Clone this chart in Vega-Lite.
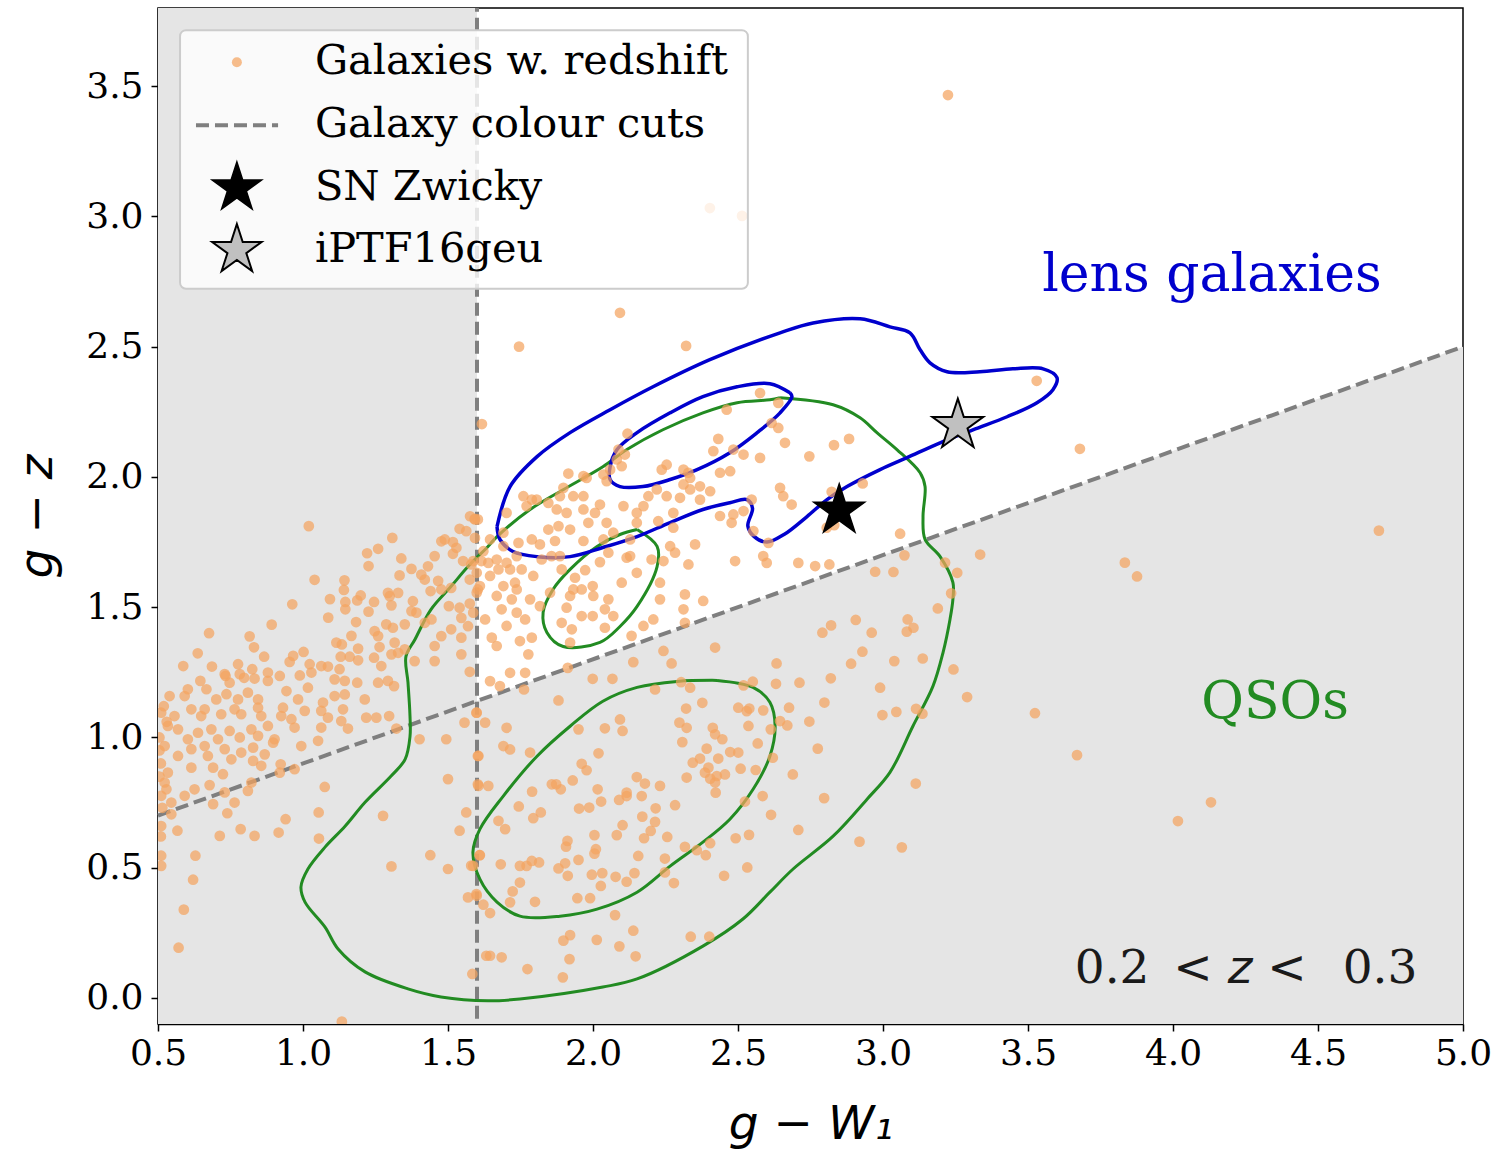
{
"$schema":"https://vega.github.io/schema/vega-lite/v6.json",
"width":1305,"height":1016,
"autosize":{"type":"none"},
"padding":{"left":158,"top":8,"right":38,"bottom":127},
"config":{"view":{"stroke":"black","strokeWidth":1.5},
"axis":{"grid":false,"tickSize":7,"tickWidth":1.5,"tickColor":"black","domainColor":"black","domainWidth":1.5,"labelFont":"DejaVu Serif","labelFontSize":36,"labelColor":"black","labelFlush":false,"labelOverlap":false,"labelBound":false,"titleFont":"DejaVu Sans","titleFontStyle":"italic","titleFontWeight":"normal","titleFontSize":47,"titleColor":"black"}},
"datasets":{
"shadeL":[{"x":0.5,"x2":1.6,"y":-0.1,"y2":3.8}],
"shadeR":[{"x":1.6,"y":1.14,"y2":-0.1},{"x":5.0,"y":2.5,"y2":-0.1}],
"diag":[{"x":0.5,"y":0.7},{"x":5.0,"y":2.5}],
"vert":[{"x":1.6,"y":-0.08,"y2":3.8}],
"green":[
{"c":"o","x":2.645,"y":2.304},{"c":"o","x":2.828,"y":2.277},{"c":"o","x":2.921,"y":2.227},{"c":"o","x":2.979,"y":2.17},{"c":"o","x":3.048,"y":2.105},{"c":"o","x":3.128,"y":2.016},{"c":"o","x":3.145,"y":1.963},{"c":"o","x":3.138,"y":1.848},{"c":"o","x":3.145,"y":1.76},{"c":"o","x":3.197,"y":1.694},{"c":"o","x":3.241,"y":1.595},{"c":"o","x":3.241,"y":1.53},{"c":"o","x":3.231,"y":1.453},{"c":"o","x":3.207,"y":1.326},{"c":"o","x":3.172,"y":1.196},{"c":"o","x":3.103,"y":1.043},{"c":"o","x":3.024,"y":0.866},{"c":"o","x":2.945,"y":0.763},{"c":"o","x":2.828,"y":0.621},{"c":"o","x":2.69,"y":0.495},{"c":"o","x":2.61,"y":0.406},{"c":"o","x":2.517,"y":0.303},{"c":"o","x":2.379,"y":0.199},{"c":"o","x":2.152,"y":0.073},{"c":"o","x":2.034,"y":0.042},{"c":"o","x":1.748,"y":-0.004},{"c":"o","x":1.638,"y":-0.011},{"c":"o","x":1.476,"y":0.004},{"c":"o","x":1.362,"y":0.035},{"c":"o","x":1.214,"y":0.1},{"c":"o","x":1.121,"y":0.188},{"c":"o","x":1.076,"y":0.272},{"c":"o","x":1.007,"y":0.368},{"c":"o","x":0.993,"y":0.426},{"c":"o","x":1.017,"y":0.495},{"c":"o","x":1.076,"y":0.579},{"c":"o","x":1.145,"y":0.659},{"c":"o","x":1.214,"y":0.751},{"c":"o","x":1.303,"y":0.851},{"c":"o","x":1.352,"y":0.916},{"c":"o","x":1.369,"y":1.004},{"c":"o","x":1.369,"y":1.081},{"c":"o","x":1.362,"y":1.211},{"c":"o","x":1.355,"y":1.311},{"c":"o","x":1.386,"y":1.376},{"c":"o","x":1.441,"y":1.491},{"c":"o","x":1.51,"y":1.579},{"c":"o","x":1.569,"y":1.656},{"c":"o","x":1.638,"y":1.733},{"c":"o","x":1.669,"y":1.771},{"c":"o","x":1.783,"y":1.875},{"c":"o","x":1.897,"y":1.951},{"c":"o","x":2.034,"y":2.039},{"c":"o","x":2.117,"y":2.105},{"c":"o","x":2.241,"y":2.181},{"c":"o","x":2.379,"y":2.246},{"c":"o","x":2.497,"y":2.285},{"c":"o","x":2.61,"y":2.296},{"c":"o","x":2.645,"y":2.304},
{"c":"u","x":2.152,"y":1.798},{"c":"u","x":2.221,"y":1.733},{"c":"u","x":2.221,"y":1.656},{"c":"u","x":2.152,"y":1.503},{"c":"u","x":2.093,"y":1.426},{"c":"u","x":2.024,"y":1.365},{"c":"u","x":1.897,"y":1.349},{"c":"u","x":1.841,"y":1.403},{"c":"u","x":1.828,"y":1.48},{"c":"u","x":1.862,"y":1.568},{"c":"u","x":1.921,"y":1.645},{"c":"u","x":2.014,"y":1.733},{"c":"u","x":2.093,"y":1.779},{"c":"u","x":2.152,"y":1.798},
{"c":"l","x":2.428,"y":1.219},{"c":"l","x":2.552,"y":1.192},{"c":"l","x":2.61,"y":1.135},{"c":"l","x":2.628,"y":1.043},{"c":"l","x":2.61,"y":0.928},{"c":"l","x":2.552,"y":0.801},{"c":"l","x":2.472,"y":0.686},{"c":"l","x":2.379,"y":0.598},{"c":"l","x":2.266,"y":0.506},{"c":"l","x":2.152,"y":0.406},{"c":"l","x":2.014,"y":0.341},{"c":"l","x":1.886,"y":0.314},{"c":"l","x":1.748,"y":0.314},{"c":"l","x":1.669,"y":0.368},{"c":"l","x":1.61,"y":0.456},{"c":"l","x":1.586,"y":0.56},{"c":"l","x":1.61,"y":0.648},{"c":"l","x":1.69,"y":0.774},{"c":"l","x":1.807,"y":0.928},{"c":"l","x":1.921,"y":1.043},{"c":"l","x":2.034,"y":1.139},{"c":"l","x":2.152,"y":1.192},{"c":"l","x":2.29,"y":1.215},{"c":"l","x":2.428,"y":1.219}],
"blue":[
{"c":"o","x":1.669,"y":1.809},{"c":"o","x":1.714,"y":1.963},{"c":"o","x":1.807,"y":2.078},{"c":"o","x":1.921,"y":2.17},{"c":"o","x":2.059,"y":2.258},{"c":"o","x":2.207,"y":2.346},{"c":"o","x":2.403,"y":2.45},{"c":"o","x":2.645,"y":2.553},{"c":"o","x":2.759,"y":2.591},{"c":"o","x":2.921,"y":2.607},{"c":"o","x":3.024,"y":2.576},{"c":"o","x":3.093,"y":2.553},{"c":"o","x":3.128,"y":2.488},{"c":"o","x":3.162,"y":2.438},{"c":"o","x":3.221,"y":2.404},{"c":"o","x":3.334,"y":2.404},{"c":"o","x":3.448,"y":2.415},{"c":"o","x":3.552,"y":2.415},{"c":"o","x":3.6,"y":2.381},{"c":"o","x":3.586,"y":2.335},{"c":"o","x":3.531,"y":2.285},{"c":"o","x":3.428,"y":2.231},{"c":"o","x":3.31,"y":2.181},{"c":"o","x":3.197,"y":2.131},{"c":"o","x":3.083,"y":2.074},{"c":"o","x":2.99,"y":2.028},{"c":"o","x":2.876,"y":1.963},{"c":"o","x":2.807,"y":1.913},{"c":"o","x":2.738,"y":1.848},{"c":"o","x":2.66,"y":1.78},{"c":"o","x":2.6,"y":1.75},{"c":"o","x":2.555,"y":1.772},{"c":"o","x":2.534,"y":1.812},{"c":"o","x":2.55,"y":1.88},{"c":"o","x":2.531,"y":1.913},{"c":"o","x":2.472,"y":1.901},{"c":"o","x":2.379,"y":1.875},{"c":"o","x":2.266,"y":1.825},{"c":"o","x":2.152,"y":1.771},{"c":"o","x":2.034,"y":1.729},{"c":"o","x":1.921,"y":1.694},{"c":"o","x":1.807,"y":1.694},{"c":"o","x":1.724,"y":1.714},{"c":"o","x":1.679,"y":1.76},{"c":"o","x":1.669,"y":1.809},
{"c":"i","x":2.679,"y":2.323},{"c":"i","x":2.61,"y":2.358},{"c":"i","x":2.497,"y":2.346},{"c":"i","x":2.379,"y":2.308},{"c":"i","x":2.266,"y":2.246},{"c":"i","x":2.152,"y":2.17},{"c":"i","x":2.083,"y":2.105},{"c":"i","x":2.059,"y":2.039},{"c":"i","x":2.059,"y":1.99},{"c":"i","x":2.093,"y":1.963},{"c":"i","x":2.172,"y":1.963},{"c":"i","x":2.266,"y":1.99},{"c":"i","x":2.359,"y":2.028},{"c":"i","x":2.472,"y":2.093},{"c":"i","x":2.566,"y":2.17},{"c":"i","x":2.645,"y":2.246},{"c":"i","x":2.686,"y":2.308},{"c":"i","x":2.679,"y":2.323}],
"pts":[
{"x":1.617,"y":2.203},{"x":1.02,"y":1.811},{"x":1.308,"y":1.766},{"x":1.221,"y":1.707},{"x":1.259,"y":1.724},{"x":1.226,"y":1.658},{"x":1.339,"y":1.687},{"x":1.04,"y":1.605},{"x":1.143,"y":1.603},{"x":1.141,"y":1.566},{"x":1.093,"y":1.531},{"x":0.963,"y":1.511},{"x":1.146,"y":1.52},{"x":1.187,"y":1.526},{"x":1.199,"y":1.545},{"x":1.245,"y":1.52},{"x":1.146,"y":1.492},{"x":1.087,"y":1.46},{"x":1.183,"y":1.443},{"x":1.226,"y":1.483},{"x":0.892,"y":1.433},{"x":0.676,"y":1.4},{"x":0.816,"y":1.388},{"x":0.831,"y":1.346},{"x":0.637,"y":1.323},{"x":0.587,"y":1.274},{"x":0.686,"y":1.272},{"x":0.776,"y":1.281},{"x":0.866,"y":1.31},{"x":0.825,"y":1.262},{"x":0.966,"y":1.313},{"x":1.002,"y":1.328},{"x":0.954,"y":1.29},{"x":1.023,"y":1.281},{"x":1.063,"y":1.274},{"x":1.086,"y":1.272},{"x":1.13,"y":1.31},{"x":1.161,"y":1.31},{"x":1.19,"y":1.296},{"x":1.167,"y":1.39},{"x":1.115,"y":1.364},{"x":1.134,"y":1.357},{"x":1.19,"y":1.341},{"x":1.245,"y":1.306},{"x":1.264,"y":1.347},{"x":1.259,"y":1.389},{"x":1.247,"y":1.408},{"x":1.293,"y":1.555},{"x":1.328,"y":1.555},{"x":1.333,"y":1.622},{"x":1.374,"y":1.647},{"x":1.408,"y":1.625},{"x":1.42,"y":1.606},{"x":1.466,"y":1.601},{"x":1.44,"y":1.562},{"x":1.477,"y":1.568},{"x":1.511,"y":1.574},{"x":1.431,"y":1.657},{"x":1.454,"y":1.696},{"x":1.489,"y":1.76},{"x":1.477,"y":1.753},{"x":1.517,"y":1.75},{"x":1.529,"y":1.728},{"x":1.517,"y":1.705},{"x":1.54,"y":1.801},{"x":1.563,"y":1.792},{"x":1.592,"y":1.839},{"x":1.603,"y":1.837},{"x":1.552,"y":1.677},{"x":1.58,"y":1.664},{"x":1.615,"y":1.677},{"x":1.575,"y":1.606},{"x":1.603,"y":1.568},{"x":1.503,"y":1.504},{"x":1.54,"y":1.498},{"x":1.575,"y":1.514},{"x":1.379,"y":1.523},{"x":1.391,"y":1.479},{"x":1.299,"y":1.542},{"x":1.305,"y":1.507},{"x":1.374,"y":1.485},{"x":1.351,"y":1.434},{"x":1.31,"y":1.421},{"x":1.287,"y":1.434},{"x":1.316,"y":1.364},{"x":1.351,"y":1.338},{"x":1.385,"y":1.293},{"x":1.454,"y":1.293},{"x":1.454,"y":1.351},{"x":1.477,"y":1.389},{"x":1.511,"y":1.415},{"x":1.546,"y":1.459},{"x":1.569,"y":1.427},{"x":1.546,"y":1.383},{"x":1.546,"y":1.319},{"x":1.575,"y":1.252},{"x":1.42,"y":1.44},{"x":1.443,"y":1.453},{"x":1.27,"y":1.274},{"x":1.305,"y":1.319},{"x":1.328,"y":1.325},{"x":1.126,"y":1.262},{"x":1.029,"y":1.249},{"x":0.73,"y":1.243},{"x":0.782,"y":1.243},{"x":0.879,"y":1.249},
{"x":0.646,"y":1.217},{"x":0.733,"y":1.236},{"x":0.747,"y":1.21},{"x":0.797,"y":1.229},{"x":0.833,"y":1.226},{"x":0.879,"y":1.217},{"x":0.92,"y":1.236},{"x":0.989,"y":1.238},{"x":1.109,"y":1.223},{"x":1.144,"y":1.217},{"x":1.187,"y":1.21},{"x":1.259,"y":1.21},{"x":1.293,"y":1.217},{"x":1.314,"y":1.197},{"x":0.54,"y":1.159},{"x":0.592,"y":1.159},{"x":0.603,"y":1.185},{"x":0.667,"y":1.185},{"x":0.701,"y":1.146},{"x":0.736,"y":1.166},{"x":0.776,"y":1.146},{"x":0.81,"y":1.172},{"x":0.845,"y":1.146},{"x":0.943,"y":1.178},{"x":0.983,"y":1.146},{"x":1.017,"y":1.191},{"x":1.069,"y":1.134},{"x":1.109,"y":1.159},{"x":1.144,"y":1.165},{"x":1.213,"y":1.146},{"x":0.511,"y":1.095},{"x":0.557,"y":1.082},{"x":0.615,"y":1.108},{"x":0.661,"y":1.108},{"x":0.649,"y":1.082},{"x":0.718,"y":1.089},{"x":0.764,"y":1.108},{"x":0.787,"y":1.089},{"x":0.845,"y":1.114},{"x":0.856,"y":1.082},{"x":0.931,"y":1.114},{"x":0.925,"y":1.082},{"x":0.96,"y":1.07},{"x":1.006,"y":1.102},{"x":1.063,"y":1.102},{"x":1.086,"y":1.076},{"x":1.138,"y":1.108},{"x":1.132,"y":1.063},{"x":1.218,"y":1.076},{"x":1.253,"y":1.076},{"x":1.297,"y":1.082},{"x":0.534,"y":1.044},{"x":0.569,"y":1.031},{"x":0.638,"y":1.018},{"x":0.603,"y":0.993},{"x":0.684,"y":1.031},{"x":0.707,"y":0.993},{"x":0.747,"y":1.025},{"x":0.782,"y":1.0},{"x":0.822,"y":1.031},{"x":0.845,"y":1.006},{"x":0.879,"y":1.044},{"x":0.902,"y":0.993},{"x":0.971,"y":1.038},{"x":1.063,"y":1.038},{"x":1.155,"y":1.034},{"x":1.052,"y":0.987},{"x":0.994,"y":0.967},{"x":1.322,"y":1.034},{"x":1.402,"y":0.993},{"x":1.494,"y":0.993},{"x":1.557,"y":1.057},{"x":1.598,"y":1.095},{"x":0.523,"y":0.967},{"x":0.569,"y":0.929},{"x":0.615,"y":0.955},{"x":0.661,"y":0.967},{"x":0.672,"y":0.929},{"x":0.73,"y":0.955},{"x":0.753,"y":0.916},{"x":0.787,"y":0.942},{"x":0.828,"y":0.961},{"x":0.868,"y":0.935},{"x":0.897,"y":0.98},{"x":0.534,"y":0.865},{"x":0.615,"y":0.884},{"x":0.69,"y":0.884},{"x":0.724,"y":0.859},{"x":0.828,"y":0.91},{"x":0.856,"y":0.891},{"x":0.92,"y":0.865},{"x":0.971,"y":0.878},{"x":0.923,"y":0.897},{"x":0.523,"y":0.827},{"x":0.529,"y":0.801},{"x":0.626,"y":0.801},{"x":0.678,"y":0.817},{"x":0.73,"y":0.789},{"x":0.81,"y":0.795},{"x":0.822,"y":0.827},{"x":1.075,"y":0.81},{"x":0.511,"y":0.776},{"x":0.546,"y":0.75},{"x":0.592,"y":0.776},{"x":0.69,"y":0.744},{"x":0.764,"y":0.75},{"x":0.546,"y":0.705},{"x":0.511,"y":0.66},{"x":0.567,"y":0.642},{"x":0.739,"y":0.709},{"x":0.713,"y":0.622},{"x":0.785,"y":0.648},{"x":0.833,"y":0.622},{"x":0.916,"y":0.635},{"x":0.94,"y":0.686},{"x":1.054,"y":0.712},{"x":1.055,"y":0.612},{"x":1.276,"y":0.699},{"x":1.5,"y":0.84},{"x":1.563,"y":0.712},{"x":1.54,"y":0.642},{"x":1.603,"y":0.929},{"x":1.603,"y":0.82},{"x":0.511,"y":0.546},{"x":0.511,"y":0.507},{"x":0.629,"y":0.546},{"x":0.621,"y":0.454},{"x":0.589,"y":0.339},{"x":0.571,"y":0.193},{"x":1.134,"y":-0.091},{"x":1.439,"y":0.548},{"x":1.305,"y":0.505},{"x":1.5,"y":0.495},{"x":1.58,"y":0.508},{"x":1.609,"y":0.548},{"x":1.569,"y":0.386},{"x":1.598,"y":0.399},{"x":1.632,"y":0.162},{"x":1.584,"y":0.092},{"x":0.51,"y":0.9},{"x":0.505,"y":1.0},{"x":0.51,"y":0.62},{"x":0.52,"y":1.12},{"x":0.505,"y":0.85},{"x":0.515,"y":0.73},{"x":0.505,"y":0.95},{"x":0.53,"y":1.06},
{"x":2.119,"y":2.166},{"x":2.088,"y":2.105},{"x":2.11,"y":2.086},{"x":2.082,"y":2.067},{"x":2.099,"y":2.041},{"x":2.059,"y":2.028},{"x":2.036,"y":2.009},{"x":2.047,"y":1.984},{"x":1.915,"y":2.013},{"x":1.967,"y":2.003},{"x":1.978,"y":1.996},{"x":1.898,"y":1.958},{"x":1.886,"y":1.926},{"x":1.932,"y":1.926},{"x":1.967,"y":1.926},{"x":1.76,"y":1.926},{"x":1.789,"y":1.913},{"x":1.806,"y":1.913},{"x":1.771,"y":1.888},{"x":1.702,"y":1.862},{"x":1.846,"y":1.9},{"x":1.875,"y":1.875},{"x":1.909,"y":1.862},{"x":1.967,"y":1.875},{"x":2.007,"y":1.862},{"x":2.024,"y":1.894},{"x":2.105,"y":1.888},{"x":2.151,"y":1.862},{"x":2.174,"y":1.888},{"x":2.191,"y":1.926},{"x":2.22,"y":1.952},{"x":2.254,"y":1.926},{"x":2.237,"y":2.028},{"x":2.254,"y":2.047},{"x":2.312,"y":2.028},{"x":2.329,"y":2.016},{"x":2.335,"y":1.996},{"x":2.312,"y":1.971},{"x":2.3,"y":1.92},{"x":2.335,"y":1.952},{"x":2.369,"y":1.913},{"x":2.404,"y":1.945},{"x":2.369,"y":1.964},{"x":2.438,"y":2.016},{"x":2.473,"y":2.022},{"x":2.415,"y":2.099},{"x":2.432,"y":2.146},{"x":2.484,"y":2.105},{"x":2.519,"y":2.086},{"x":2.576,"y":2.073},{"x":2.461,"y":2.258},{"x":2.576,"y":2.322},{"x":2.639,"y":2.284},{"x":2.616,"y":2.207},{"x":2.639,"y":2.188},{"x":2.662,"y":2.131},{"x":2.645,"y":1.958},{"x":2.656,"y":1.926},{"x":2.685,"y":1.894},{"x":2.547,"y":1.913},{"x":2.519,"y":1.869},{"x":2.484,"y":1.856},{"x":2.438,"y":1.85},{"x":2.478,"y":1.824},{"x":2.553,"y":1.792},{"x":2.605,"y":1.747},{"x":2.49,"y":1.677},{"x":2.587,"y":1.696},{"x":2.599,"y":1.67},{"x":2.708,"y":1.67},{"x":2.277,"y":1.805},{"x":2.277,"y":1.862},{"x":2.225,"y":1.83},{"x":2.151,"y":1.824},{"x":2.128,"y":1.76},{"x":2.07,"y":1.786},{"x":2.047,"y":1.824},{"x":2.036,"y":1.76},{"x":2.053,"y":1.709},{"x":2.116,"y":1.69},{"x":2.128,"y":1.696},{"x":2.202,"y":1.683},{"x":2.243,"y":1.677},{"x":2.266,"y":1.734},{"x":2.283,"y":1.709},{"x":2.352,"y":1.741},{"x":2.329,"y":1.664},{"x":2.231,"y":1.594},{"x":2.231,"y":1.53},{"x":2.208,"y":1.453},{"x":2.174,"y":1.428},{"x":2.133,"y":1.39},{"x":2.317,"y":1.549},{"x":2.312,"y":1.492},{"x":2.317,"y":1.44},{"x":2.38,"y":1.524},{"x":2.421,"y":1.345},{"x":2.243,"y":1.332},{"x":2.151,"y":1.632},{"x":2.099,"y":1.594},{"x":2.053,"y":1.53},{"x":2.041,"y":1.492},{"x":2.07,"y":1.466},{"x":2.041,"y":1.421},{"x":1.999,"y":1.581},{"x":2.001,"y":1.543},{"x":1.961,"y":1.568},{"x":1.932,"y":1.568},{"x":1.921,"y":1.543},{"x":1.938,"y":1.613},{"x":1.973,"y":1.642},{"x":2.024,"y":1.673},{"x":1.892,"y":1.645},{"x":1.909,"y":1.498},{"x":1.961,"y":1.466},{"x":1.999,"y":1.466},{"x":1.927,"y":1.415},{"x":1.892,"y":1.44},{"x":1.921,"y":1.364},{"x":1.852,"y":1.556},{"x":1.817,"y":1.504},{"x":1.794,"y":1.62},{"x":1.783,"y":1.53},{"x":1.754,"y":1.645},{"x":1.823,"y":1.683},{"x":1.857,"y":1.696},{"x":1.886,"y":1.696},{"x":1.967,"y":1.754},{"x":1.984,"y":1.824},{"x":1.921,"y":1.798},{"x":1.881,"y":1.811},{"x":1.846,"y":1.798},{"x":1.869,"y":1.754},{"x":1.817,"y":1.741},{"x":1.789,"y":1.76},{"x":1.737,"y":1.696},{"x":1.743,"y":1.747},{"x":1.691,"y":1.786},{"x":1.691,"y":1.734},{"x":1.645,"y":1.76},{"x":1.622,"y":1.715},{"x":1.593,"y":1.766},{"x":1.576,"y":1.849},{"x":1.593,"y":1.837},{"x":1.639,"y":1.67},{"x":1.668,"y":1.683},{"x":1.702,"y":1.67},{"x":1.714,"y":1.645},{"x":1.587,"y":1.677},{"x":1.599,"y":1.632},{"x":1.645,"y":1.62},{"x":1.674,"y":1.645},{"x":1.61,"y":1.581},{"x":1.691,"y":1.581},{"x":1.731,"y":1.594},{"x":1.737,"y":1.568},{"x":1.72,"y":1.53},{"x":1.668,"y":1.543},{"x":1.685,"y":1.492},{"x":1.737,"y":1.479},{"x":1.702,"y":1.428},{"x":1.628,"y":1.453},{"x":1.651,"y":1.383},{"x":1.668,"y":1.351},{"x":1.748,"y":1.37},{"x":1.789,"y":1.383},{"x":1.766,"y":1.453},{"x":1.777,"y":1.319},{"x":1.587,"y":1.479},{"x":1.599,"y":1.556},
{"x":3.53,"y":2.369},{"x":3.679,"y":2.108},{"x":2.746,"y":2.079},{"x":2.831,"y":2.122},{"x":2.883,"y":2.146},{"x":2.93,"y":1.975},{"x":2.823,"y":1.943},{"x":2.806,"y":1.805},{"x":2.832,"y":1.815},{"x":3.059,"y":1.782},{"x":3.074,"y":1.699},{"x":2.766,"y":1.658},{"x":2.815,"y":1.664},{"x":2.973,"y":1.636},{"x":3.036,"y":1.635},{"x":3.214,"y":1.671},{"x":3.335,"y":1.702},{"x":3.256,"y":1.632},{"x":3.235,"y":1.553},{"x":3.189,"y":1.495},{"x":3.085,"y":1.453},{"x":3.105,"y":1.421},{"x":3.082,"y":1.406},{"x":2.961,"y":1.402},{"x":2.906,"y":1.451},{"x":2.821,"y":1.43},{"x":2.791,"y":1.402},
{"x":2.271,"y":1.284},{"x":2.139,"y":1.289},{"x":1.999,"y":1.225},{"x":2.067,"y":1.225},{"x":1.913,"y":1.267},{"x":1.881,"y":1.142},{"x":1.714,"y":1.248},{"x":1.766,"y":1.248},{"x":1.645,"y":1.216},{"x":1.679,"y":1.197},{"x":1.762,"y":1.184},{"x":1.599,"y":1.095},{"x":1.628,"y":1.057},{"x":1.702,"y":1.037},{"x":1.691,"y":0.967},{"x":1.714,"y":0.954},{"x":1.783,"y":0.942},{"x":1.605,"y":0.929},{"x":1.605,"y":0.814},{"x":1.639,"y":0.814},{"x":1.674,"y":0.68},{"x":1.697,"y":0.648},{"x":1.61,"y":0.548},{"x":1.587,"y":0.507},{"x":1.682,"y":0.513},{"x":1.748,"y":0.507},{"x":1.771,"y":0.507},{"x":1.789,"y":0.526},{"x":1.814,"y":0.52},{"x":1.748,"y":0.443},{"x":1.723,"y":0.409},{"x":1.714,"y":0.367},{"x":1.8,"y":0.369},{"x":1.599,"y":0.392},{"x":1.622,"y":0.358},{"x":1.645,"y":0.326},{"x":1.645,"y":0.162},{"x":1.685,"y":0.156},{"x":1.774,"y":0.111},{"x":1.896,"y":0.079},{"x":1.919,"y":0.149},{"x":1.898,"y":0.22},{"x":1.921,"y":0.241},{"x":2.013,"y":0.223},{"x":2.091,"y":0.198},{"x":2.139,"y":0.258},{"x":2.147,"y":0.16},{"x":2.076,"y":0.318},{"x":2.337,"y":0.235},{"x":2.401,"y":0.235},{"x":1.79,"y":0.792},{"x":1.744,"y":0.735},{"x":1.794,"y":0.69},{"x":1.82,"y":0.712},{"x":1.858,"y":0.82},{"x":1.873,"y":0.82},{"x":1.889,"y":0.801},{"x":1.93,"y":0.835},{"x":1.961,"y":0.899},{"x":1.978,"y":0.874},{"x":2.019,"y":0.939},{"x":1.95,"y":1.031},{"x":2.041,"y":1.035},{"x":2.093,"y":1.069},{"x":2.102,"y":1.025},{"x":2.016,"y":0.801},{"x":2.028,"y":0.754},{"x":1.952,"y":0.727},{"x":1.987,"y":0.731},{"x":1.912,"y":0.603},{"x":1.907,"y":0.581},{"x":1.95,"y":0.53},{"x":1.904,"y":0.517},{"x":1.881,"y":0.497},{"x":1.913,"y":0.469},{"x":2.005,"y":0.625},{"x":2.01,"y":0.571},{"x":2.005,"y":0.554},{"x":1.996,"y":0.473},{"x":2.032,"y":0.479},{"x":2.027,"y":0.43},{"x":2.078,"y":0.465},{"x":2.116,"y":0.446},{"x":2.143,"y":0.479},{"x":2.156,"y":0.545},{"x":2.082,"y":0.625},{"x":2.102,"y":0.663},{"x":2.176,"y":0.613},{"x":2.17,"y":0.696},{"x":2.199,"y":0.641},{"x":2.214,"y":0.676},{"x":2.216,"y":0.728},{"x":2.09,"y":0.76},{"x":2.116,"y":0.775},{"x":2.116,"y":0.788},{"x":2.168,"y":0.775},{"x":2.151,"y":0.848},{"x":2.179,"y":0.823},{"x":2.231,"y":0.814},{"x":2.283,"y":0.74},{"x":2.256,"y":0.618},{"x":2.317,"y":0.58},{"x":2.358,"y":0.567},{"x":2.389,"y":0.548},{"x":2.404,"y":0.594},{"x":2.248,"y":0.535},{"x":2.248,"y":0.482},{"x":2.279,"y":0.441},{"x":1.946,"y":0.383},{"x":1.99,"y":0.383},{"x":2.308,"y":0.982},{"x":2.323,"y":1.037},{"x":2.298,"y":1.057},{"x":2.321,"y":1.111},{"x":2.377,"y":1.133},{"x":2.304,"y":1.212},{"x":2.335,"y":1.191},{"x":2.214,"y":1.184},{"x":2.413,"y":1.037},{"x":2.421,"y":1.012},{"x":2.446,"y":0.993},{"x":2.392,"y":0.957},{"x":2.432,"y":0.919},{"x":2.369,"y":0.919},{"x":2.344,"y":0.903},{"x":2.323,"y":0.846},{"x":2.386,"y":0.865},{"x":2.398,"y":0.884},{"x":2.404,"y":0.842},{"x":2.421,"y":0.827},{"x":2.427,"y":0.852},{"x":2.455,"y":0.858},{"x":2.423,"y":0.788},{"x":2.473,"y":0.944},{"x":2.501,"y":0.942},{"x":2.509,"y":0.88},{"x":2.561,"y":0.875},{"x":2.568,"y":0.977},{"x":2.536,"y":1.044},{"x":2.501,"y":1.114},{"x":2.53,"y":1.101},{"x":2.539,"y":1.111},{"x":2.587,"y":1.104},{"x":2.519,"y":1.2},{"x":2.551,"y":1.214},{"x":2.631,"y":1.206},{"x":2.633,"y":1.284},{"x":2.676,"y":1.114},{"x":2.645,"y":1.063},{"x":2.67,"y":1.046},{"x":2.613,"y":1.031},{"x":2.62,"y":0.922},{"x":2.689,"y":0.858},{"x":2.712,"y":1.21},{"x":2.585,"y":0.775},{"x":2.614,"y":0.703},{"x":2.524,"y":0.754},{"x":2.708,"y":0.645},{"x":2.538,"y":0.626},{"x":2.492,"y":0.613},{"x":2.532,"y":0.501},{"x":2.452,"y":0.469},
{"x":2.929,"y":1.329},{"x":2.89,"y":1.283},{"x":3.039,"y":1.293},{"x":3.137,"y":1.303},{"x":3.243,"y":1.261},{"x":3.29,"y":1.155},{"x":3.524,"y":1.093},{"x":3.669,"y":0.932},{"x":2.82,"y":1.227},{"x":2.798,"y":1.134},{"x":2.746,"y":1.061},{"x":2.99,"y":1.191},{"x":2.998,"y":1.086},{"x":3.046,"y":1.098},{"x":3.114,"y":1.11},{"x":3.136,"y":1.091},{"x":2.775,"y":0.957},{"x":2.797,"y":0.767},{"x":3.113,"y":0.823},{"x":2.919,"y":0.6},{"x":3.065,"y":0.578},
{"x":3.834,"y":1.671},{"x":3.876,"y":1.618},{"x":4.71,"y":1.794},{"x":4.131,"y":0.751},{"x":4.017,"y":0.679},{"x":3.224,"y":3.466},{"x":2.403,"y":3.032},{"x":2.514,"y":3.002},{"x":2.093,"y":2.63},{"x":1.745,"y":2.5},{"x":2.321,"y":2.503}],
"sn":[{"x":2.849,"y":1.871,"n":"SN Zwicky"}],
"ip":[{"x":3.258,"y":2.198,"n":"iPTF16geu"}],
"legbox":[{"x":0.576,"x2":2.534,"y":2.722,"y2":3.715}],
"legdot":[{"x":0.772,"y":3.592}],
"legdash":[{"x":0.631,"y":3.35},{"x":0.914,"y":3.35}],
"legsn":[{"x":0.772,"y":3.109}],
"legip":[{"x":0.772,"y":2.871}],
"legtxt":[{"x":1.041,"y":3.592,"t":"Galaxies w. redshift"},{"x":1.041,"y":3.35,"t":"Galaxy colour cuts"},{"x":1.041,"y":3.109,"t":"SN Zwicky"},{"x":1.041,"y":2.871,"t":"iPTF16geu"}],
"lens":[{"x":4.134,"y":2.775,"t":"lens galaxies"}],
"qso":[{"x":4.352,"y":1.135,"t":"QSOs"}],
"zr":[{"x":3.79,"y":0.111,"t":"0.2"},{"x":4.714,"y":0.111,"t":"0.3"}],
"zm":[{"x":4.231,"y":0.111,"t":"< z <"}]
},
"layer":[
{"data":{"name":"shadeL"},"mark":{"type":"rect","color":"#e5e5e5"},
 "encoding":{"x":{"field":"x","type":"quantitative","scale":{"domain":[0.5,5.0],"nice":false,"zero":false},"axis":{"values":[0.5,1,1.5,2,2.5,3,3.5,4,4.5,5],"format":".1f","title":"g − W₁","labelPadding":5,"titlePadding":30}},
  "x2":{"field":"x2"},
  "y":{"field":"y","type":"quantitative","scale":{"domain":[-0.1,3.8],"nice":false,"zero":false},"axis":{"values":[0,0.5,1,1.5,2,2.5,3,3.5],"format":".1f","title":"g − z","labelPadding":8,"titlePadding":24}},
  "y2":{"field":"y2"}}},
{"data":{"name":"shadeR"},"mark":{"type":"area","color":"#e5e5e5","opacity":1},
 "encoding":{"x":{"field":"x","type":"quantitative"},"y":{"field":"y","type":"quantitative"},"y2":{"field":"y2"}}},
{"data":{"name":"diag"},"mark":{"type":"line","color":"#7f7f7f","strokeWidth":4,"strokeDash":[13,6]},
 "encoding":{"x":{"field":"x","type":"quantitative"},"y":{"field":"y","type":"quantitative"}}},
{"data":{"name":"vert"},"mark":{"type":"rule","color":"#7f7f7f","strokeWidth":4,"strokeDash":[13,6]},
 "encoding":{"x":{"field":"x","type":"quantitative"},"y":{"field":"y","type":"quantitative"},"y2":{"field":"y2"}}},
{"data":{"name":"green"},"mark":{"type":"line","color":"#228b22","strokeWidth":3,"interpolate":"catmull-rom"},
 "encoding":{"x":{"field":"x","type":"quantitative"},"y":{"field":"y","type":"quantitative"},"detail":{"field":"c"},"order":{"value":null}}},
{"data":{"name":"blue"},"mark":{"type":"line","color":"#0000cd","strokeWidth":3.5,"interpolate":"catmull-rom"},
 "encoding":{"x":{"field":"x","type":"quantitative"},"y":{"field":"y","type":"quantitative"},"detail":{"field":"c"},"order":{"value":null}}},
{"data":{"name":"pts"},"mark":{"type":"circle","size":115,"color":"#f4a460","opacity":0.72,"clip":true},
 "encoding":{"x":{"field":"x","type":"quantitative"},"y":{"field":"y","type":"quantitative"}}},
{"data":{"name":"sn"},"mark":{"type":"point","shape":"M0,-1L0.2245,-0.309L0.951,-0.309L0.363,0.118L0.588,0.809L0,0.382L-0.588,0.809L-0.363,0.118L-0.951,-0.309L-0.2245,-0.309Z","size":2850,"filled":true,"fill":"black","stroke":"black","strokeWidth":1.5,"opacity":1},
 "encoding":{"x":{"field":"x","type":"quantitative"},"y":{"field":"y","type":"quantitative"}}},
{"data":{"name":"ip"},"mark":{"type":"point","shape":"M0,-1L0.2245,-0.309L0.951,-0.309L0.363,0.118L0.588,0.809L0,0.382L-0.588,0.809L-0.363,0.118L-0.951,-0.309L-0.2245,-0.309Z","size":2850,"filled":true,"fill":"#c0c0c0","stroke":"black","strokeWidth":2,"opacity":1},
 "encoding":{"x":{"field":"x","type":"quantitative"},"y":{"field":"y","type":"quantitative"}}},
{"data":{"name":"lens"},"mark":{"type":"text","font":"DejaVu Serif","fontSize":52,"color":"#0000cd","align":"center","baseline":"middle"},
 "encoding":{"x":{"field":"x","type":"quantitative"},"y":{"field":"y","type":"quantitative"},"text":{"field":"t"}}},
{"data":{"name":"qso"},"mark":{"type":"text","font":"DejaVu Serif","fontSize":52,"color":"#228b22","align":"center","baseline":"middle"},
 "encoding":{"x":{"field":"x","type":"quantitative"},"y":{"field":"y","type":"quantitative"},"text":{"field":"t"}}},
{"data":{"name":"zr"},"mark":{"type":"text","font":"DejaVu Serif","fontSize":47,"color":"#1a1a1a","align":"center","baseline":"middle"},
 "encoding":{"x":{"field":"x","type":"quantitative"},"y":{"field":"y","type":"quantitative"},"text":{"field":"t"}}},
{"data":{"name":"zm"},"mark":{"type":"text","font":"DejaVu Sans","fontStyle":"italic","fontSize":47,"color":"#1a1a1a","align":"center","baseline":"middle"},
 "encoding":{"x":{"field":"x","type":"quantitative"},"y":{"field":"y","type":"quantitative"},"text":{"field":"t"}}},
{"data":{"name":"legbox"},"mark":{"type":"rect","fill":"white","fillOpacity":0.8,"stroke":"#cccccc","strokeWidth":2,"cornerRadius":6},
 "encoding":{"x":{"field":"x","type":"quantitative"},"x2":{"field":"x2"},"y":{"field":"y","type":"quantitative"},"y2":{"field":"y2"}}},
{"data":{"name":"legdot"},"mark":{"type":"circle","size":100,"color":"#f4a460","opacity":0.72},
 "encoding":{"x":{"field":"x","type":"quantitative"},"y":{"field":"y","type":"quantitative"}}},
{"data":{"name":"legdash"},"mark":{"type":"line","color":"#7f7f7f","strokeWidth":4,"strokeDash":[13,6]},
 "encoding":{"x":{"field":"x","type":"quantitative"},"y":{"field":"y","type":"quantitative"}}},
{"data":{"name":"legsn"},"mark":{"type":"point","shape":"M0,-1L0.2245,-0.309L0.951,-0.309L0.363,0.118L0.588,0.809L0,0.382L-0.588,0.809L-0.363,0.118L-0.951,-0.309L-0.2245,-0.309Z","size":2700,"filled":true,"fill":"black","stroke":"black","strokeWidth":1.5,"opacity":1},
 "encoding":{"x":{"field":"x","type":"quantitative"},"y":{"field":"y","type":"quantitative"}}},
{"data":{"name":"legip"},"mark":{"type":"point","shape":"M0,-1L0.2245,-0.309L0.951,-0.309L0.363,0.118L0.588,0.809L0,0.382L-0.588,0.809L-0.363,0.118L-0.951,-0.309L-0.2245,-0.309Z","size":2700,"filled":true,"fill":"#c0c0c0","stroke":"black","strokeWidth":2,"opacity":1},
 "encoding":{"x":{"field":"x","type":"quantitative"},"y":{"field":"y","type":"quantitative"}}},
{"data":{"name":"legtxt"},"mark":{"type":"text","font":"DejaVu Serif","fontSize":41.5,"color":"black","align":"left","baseline":"middle"},
 "encoding":{"x":{"field":"x","type":"quantitative"},"y":{"field":"y","type":"quantitative"},"text":{"field":"t"}}}
]
}
